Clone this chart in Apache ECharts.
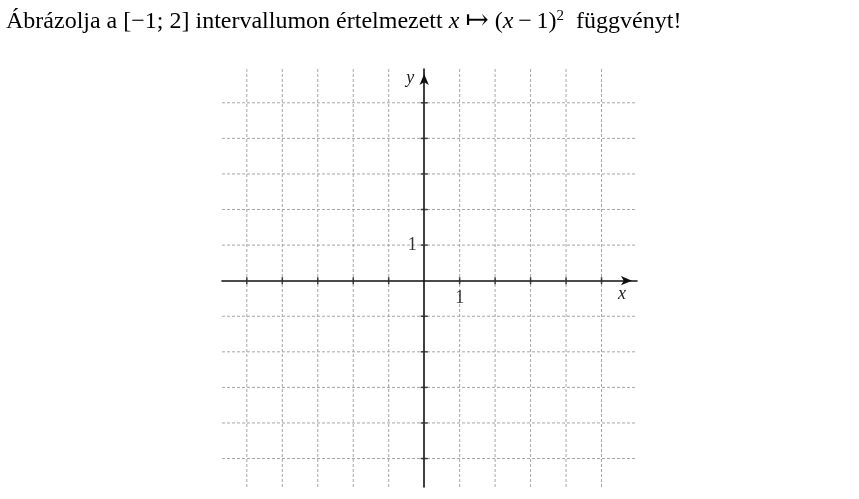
<!DOCTYPE html>
<html>
<head>
<meta charset="utf-8">
<script src="https://cdn.jsdelivr.net/npm/echarts@6/dist/echarts.min.js"></script>
<style>html,body{margin:0;padding:0;background:#fff;}#c{width:859px;height:499px;}</style>
</head>
<body>
<div id="c"></div>
<script>
// ---- data ----
const xRange = [-5.7, 6];
const yRange = [-5.8, 5.95];
const gridXs = [-5, -4, -3, -2, -1, 1, 2, 3, 4, 5];
const gridYs = [-5, -4, -3, -2, -1, 1, 2, 3, 4, 5];
const xTickValues = [-5, -4, -3, -2, -1, 1, 2, 3, 4, 5];
const yTickValues = [-5, -4, -3, -2, -1, 1, 2, 3, 4, 5];
const xTickLabels = [1];
const yTickLabels = [1];
const titleText = 'Ábrázolja a [−1; 2] intervallumon értelmezett {i|x} {m|↦} ({i|x}\u2009−\u20091){sup|2}  függvényt!';

const chart = echarts.init(document.getElementById('c'), null, {renderer: 'canvas'});

const serif = '"Liberation Serif", "DejaVu Serif", serif';
const gridStyle = {color: '#a6a6a6', width: 1, type: [3, 2]};
const series = [];
gridXs.forEach(k => series.push({
  type: 'line', data: [[k, yRange[0]], [k, yRange[1]]], symbol: 'none', silent: true,
  lineStyle: gridStyle, z: 1
}));
gridYs.forEach(k => series.push({
  type: 'line', data: [[xRange[0], k], [xRange[1], k]], symbol: 'none', silent: true,
  lineStyle: gridStyle, z: 1
}));
series.push({
  type: 'scatter', data: xTickValues.map(v => [v, 0]), symbol: 'rect', symbolSize: [1.5, 7],
  itemStyle: {color: '#111'}, silent: true, z: 5
});
series.push({
  type: 'scatter', data: yTickValues.map(v => [0, v]), symbol: 'rect', symbolSize: [7, 1.5],
  itemStyle: {color: '#111'}, silent: true, z: 5
});
series.push({
  type: 'scatter', data: xTickLabels.map(v => [v, 0]), symbol: 'circle', symbolSize: 1,
  itemStyle: {color: 'rgba(0,0,0,0)'}, silent: true, z: 6,
  label: {show: true, position: 'bottom', distance: 8, formatter: p => String(p.value[0]),
    fontFamily: serif, fontSize: 18, color: '#000'}
});
series.push({
  type: 'scatter', data: yTickLabels.map(v => [0, v]), symbol: 'circle', symbolSize: 1,
  itemStyle: {color: 'rgba(0,0,0,0)'}, silent: true, z: 6,
  label: {show: true, position: 'left', distance: 7, formatter: p => String(p.value[1]),
    fontFamily: serif, fontSize: 18, color: '#000'}
});

chart.setOption({
  animation: false,
  title: {
    text: titleText, left: 6, top: 8, padding: 0,
    textStyle: {
      fontFamily: serif, fontSize: 24, fontWeight: 'normal', color: '#000',
      rich: {
        i: {fontFamily: serif, fontStyle: 'italic', fontSize: 24, color: '#000'},
        m: {fontFamily: serif, fontSize: 28, color: '#000'},
        sup: {fontFamily: serif, fontSize: 15, color: '#000', verticalAlign: 'bottom', padding: [0, 0, 12, 0]}
      }
    }
  },
  grid: {left: 222, right: 222, top: 69, bottom: 12, outerBoundsMode: 'none', containLabel: false},
  xAxis: {
    type: 'value', min: xRange[0], max: xRange[1],
    name: 'x', nameLocation: 'end', nameGap: -19,
    nameTextStyle: {fontFamily: serif, fontStyle: 'italic', fontSize: 18, color: '#222', verticalAlign: 'top', padding: [5, 0, 0, 0]},
    axisLine: {onZero: true, lineStyle: {color: '#111', width: 1.6}, symbol: ['none', 'arrow'], symbolSize: [7, 11], symbolOffset: [0, -5]},
    axisTick: {show: false},
    axisLabel: {show: false},
    splitLine: {show: false}
  },
  yAxis: {
    type: 'value', min: yRange[0], max: yRange[1],
    name: 'y', nameLocation: 'end', nameGap: -9,
    nameTextStyle: {fontFamily: serif, fontStyle: 'italic', fontSize: 18, color: '#222', align: 'right', verticalAlign: 'middle', padding: [0, 10, 0, 0]},
    axisLine: {onZero: true, lineStyle: {color: '#111', width: 1.6}, symbol: ['none', 'arrow'], symbolSize: [7, 11], symbolOffset: [0, -5]},
    axisTick: {show: false},
    axisLabel: {show: false},
    splitLine: {show: false}
  },
  series: series
});
</script>
</body>
</html>
